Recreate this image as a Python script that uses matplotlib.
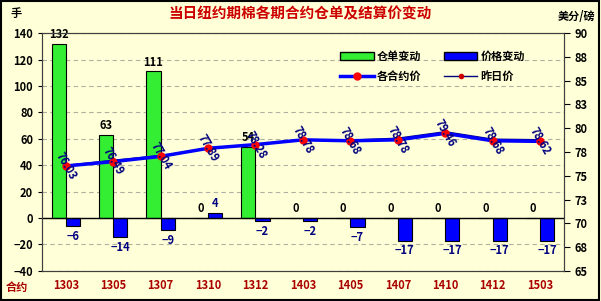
import numpy as np
import matplotlib
matplotlib.use("Agg")
import matplotlib.pyplot as plt
from matplotlib.patches import Patch
from matplotlib.lines import Line2D

plt.rcParams['font.family'] = ['Noto Sans CJK SC', 'DejaVu Sans']

contracts = ['1303', '1305', '1307', '1310', '1312', '1403', '1405', '1407', '1410', '1412', '1503']
stock_change = [132, 63, 111, 0, 54, 0, 0, 0, 0, 0, 0]
price_change = [-6, -14, -9, 4, -2, -2, -7, -17, -17, -17, -17]
price = [76.03, 76.49, 77.04, 77.89, 78.28, 78.78, 78.68, 78.78, 79.46, 78.68, 78.62]
prev_price = [p - c / 100 for p, c in zip(price, price_change)]
right_ticks = [65, 67.5, 70, 72.5, 75, 77.5, 80, 82.5, 85, 87.5, 90]
right_labels = ['65', '68', '70', '73', '75', '78', '80', '83', '85', '88', '90']

bg = '#FFFFD8'
fig = plt.figure(figsize=(6.01, 3.01), dpi=100, facecolor=bg)
fig.patches.append(plt.Rectangle((0.002, 0.003), 0.995, 0.993, transform=fig.transFigure,
                                 fill=False, edgecolor='black', linewidth=1.5))
ax = fig.add_axes([0.07, 0.1, 0.868, 0.79])
ax.set_facecolor(bg)
x = np.arange(len(contracts))
w = 0.3

gb = ax.bar(x - w / 2, stock_change, w, color='#33EE33', edgecolor='black', linewidth=0.8, zorder=2)
bb = ax.bar(x + w / 2, price_change, w, color='#0000FF', edgecolor='black', linewidth=0.8, zorder=2)
ax.axhline(0, color='black', linewidth=1, zorder=3)

for xi, v in zip(x, stock_change):
    ax.text(xi - w / 2, v + 2, str(v), ha='center', va='bottom', fontsize=8,
            fontweight='bold', color='black', zorder=5)
for xi, v in zip(x, price_change):
    if v >= 0:
        ax.text(xi + w / 2, v + 2, str(v), ha='center', va='bottom', fontsize=8,
                fontweight='bold', color='#000080', zorder=5)
    else:
        ax.text(xi + w / 2, v - 3, '\u2212' + str(-v), ha='center', va='top', fontsize=8,
                fontweight='bold', color='#000080', zorder=5)

ax.set_ylim(-40, 140)
ax.set_yticks(np.arange(-40, 141, 20))
ax.set_xlim(-0.5, len(contracts) - 0.5)
ax.yaxis.grid(True, linestyle=(0, (4, 3)), color='#B0B0A0', linewidth=0.8)
ax.set_axisbelow(True)
ax.set_xticks(x)
ax.set_xticklabels(contracts, color='#AA0000', fontweight='bold', fontsize=8)
ax.tick_params(axis='x', length=0, pad=6)
ax.tick_params(axis='y', labelsize=8, length=3, direction='out')
ax.set_yticklabels([str(t).replace('-', '\u2212') for t in range(-40, 141, 20)], fontweight='bold')

ax2 = ax.twinx()
ax2.set_ylim(65, 90)
ax2.set_yticks(right_ticks)
ax2.set_yticklabels(right_labels, fontweight='bold', fontsize=8)
ax2.tick_params(axis='y', length=4, direction='out')
ax2.plot(x, prev_price, color='#000080', linewidth=1, marker='o', markersize=3,
         markerfacecolor='#CC0000', markeredgecolor='#CC0000', zorder=3)
ax2.plot(x, price, color='#0000FF', linewidth=2.5, marker='o', markersize=5,
         markerfacecolor='#FF0000', markeredgecolor='#FF0000', zorder=4)
for xi, p in zip(x, price):
    ax2.text(xi, p, '%.2f' % p, rotation=-60, ha='center', va='center', fontsize=8,
             fontweight='bold', color='#000080', zorder=6)

for a in (ax, ax2):
    for s in a.spines.values():
        s.set_color('#404040')

handles = [Patch(facecolor='#33EE33', edgecolor='black'),
           Line2D([], [], color='#0000FF', linewidth=2.5, marker='o', markersize=5,
                  markerfacecolor='#FF0000', markeredgecolor='#FF0000'),
           Patch(facecolor='#0000FF', edgecolor='black'),
           Line2D([], [], color='#000080', linewidth=1, marker='o', markersize=3,
                  markerfacecolor='#CC0000', markeredgecolor='#CC0000')]
labels = ['仓单变动', '各合约价', '价格变动', '昨日价']
leg = ax2.legend(handles, labels, ncol=2, loc='upper right', bbox_to_anchor=(0.945, 0.97),
                 frameon=False, prop={'weight': 'bold', 'size': 8}, handlelength=3.0,
                 columnspacing=2.0, handletextpad=0.3, labelspacing=0.6)

fig.text(0.5, 0.955, '当日纽约期棉各期合约仓单及结算价变动', ha='center', va='center',
         color='#CC0000', fontsize=10.5, fontweight='bold')
fig.text(0.018, 0.955, '手', ha='left', va='center', fontsize=8, fontweight='bold')
fig.text(0.99, 0.945, '美分/磅', ha='right', va='center', fontsize=8, fontweight='bold')
fig.text(0.01, 0.045, '合约', ha='left', va='center', fontsize=8, fontweight='bold', color='#AA0000')

fig.savefig('out.png', dpi=100, facecolor=bg)
